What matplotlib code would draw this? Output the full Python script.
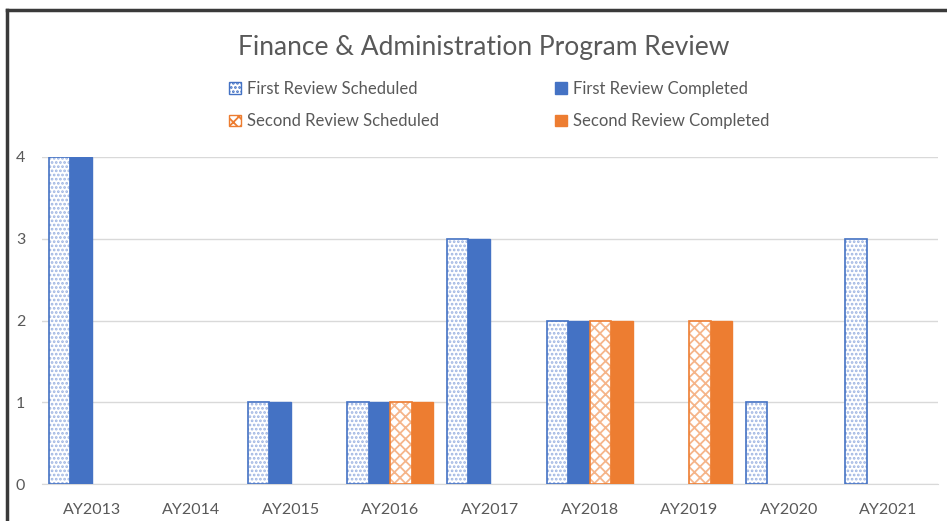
import matplotlib
matplotlib.use("Agg")
import matplotlib.pyplot as plt
import numpy as np
from matplotlib.lines import Line2D
from matplotlib.patches import Patch

categories = ["AY2013", "AY2014", "AY2015", "AY2016", "AY2017", "AY2018", "AY2019", "AY2020", "AY2021"]
first_scheduled = [4, 0, 1, 1, 3, 2, 0, 1, 3]
first_completed = [4, 0, 1, 1, 3, 2, 0, 0, 0]
second_scheduled = [0, 0, 0, 1, 0, 2, 2, 0, 0]
second_completed = [0, 0, 0, 1, 0, 2, 2, 0, 0]
series_names = ["First Review Scheduled", "First Review Completed",
                "Second Review Scheduled", "Second Review Completed"]

BLUE = "#4472C4"
ORANGE = "#ED7D31"
LBLUE = "#9DB4E2"
LORANGE = "#F5B58A"
TXT = "#595959"

plt.rcParams['font.family'] = ['Lato', 'DejaVu Sans']
plt.rcParams['hatch.linewidth'] = 1.3

fig = plt.figure(figsize=(9.47, 5.21), dpi=100)
W, H = 947, 521
ax = fig.add_axes([42 / W, 37 / H, (938 - 42) / W, (484 - 157) / H])

x = np.arange(len(categories))
bw = 0.216
offs = np.array([-1.5, -0.5, 0.5, 1.5]) * bw

data = [first_scheduled, first_completed, second_scheduled, second_completed]
kinds = [("hatch", BLUE, LBLUE, "...."), ("solid", BLUE, BLUE, None),
         ("hatch", ORANGE, LORANGE, "xxx"), ("solid", ORANGE, ORANGE, None)]
handles = []
for i, (vals, (kind, col, lcol, hatch)) in enumerate(zip(data, kinds)):
    vals = np.array(vals, dtype=float)
    mask = vals > 0
    if kind == "hatch":
        ax.bar(x[mask] + offs[i], vals[mask], width=bw, facecolor="white",
               edgecolor=lcol, hatch=hatch, linewidth=0, zorder=3)
        ax.bar(x[mask] + offs[i], vals[mask], width=bw, facecolor="none",
               edgecolor=col, linewidth=1.2, zorder=4)
        handles.append(Patch(facecolor="white", edgecolor=col, hatch=hatch, linewidth=1.0))
    else:
        ax.bar(x[mask] + offs[i], vals[mask], width=bw, facecolor=col,
               edgecolor=col, linewidth=1.0, zorder=3)
        handles.append(Patch(facecolor=col, edgecolor=col))

ax.set_xlim(-0.5, len(categories) - 0.5)
ax.set_ylim(0, 4)
ax.set_yticks([0, 1, 2, 3, 4])
ax.yaxis.grid(True, color="#D9D9D9", linewidth=1.0, zorder=0)
ax.set_axisbelow(True)
for s in ["top", "right", "left"]:
    ax.spines[s].set_visible(False)
ax.spines["bottom"].set_color("#D9D9D9")
ax.set_xticks(x)
ax.set_xticklabels(categories)
ax.tick_params(axis="both", length=0, labelsize=11.5, colors=TXT)
ax.tick_params(axis="x", pad=14)
ax.tick_params(axis="y", pad=12)

fig.text(484 / W, 1 - 47 / H, "Finance & Administration Program Review",
         ha="center", va="center", fontsize=19, color=TXT)

order = [0, 2, 1, 3]
leg = fig.legend([handles[i] for i in order], [series_names[i] for i in order],
                 ncol=2, frameon=False, loc="center left",
                 bbox_to_anchor=(214 / W, 1 - 105 / H),
                 handlelength=0.7, handleheight=0.7, handletextpad=0.35,
                 columnspacing=7.0, labelspacing=1.0, fontsize=12,
                 labelcolor=TXT)

# dark frame lines at top and left (cropped screenshot border)
fig.add_artist(Line2D([6.5 / W, 1], [1 - 9.5 / H, 1 - 9.5 / H], transform=fig.transFigure,
                      color="#3a3a3a", linewidth=2.5))
fig.add_artist(Line2D([6.5 / W, 6.5 / W], [0, 1 - 9.5 / H], transform=fig.transFigure,
                      color="#3a3a3a", linewidth=2.5))

fig.savefig("out.png", dpi=100)
